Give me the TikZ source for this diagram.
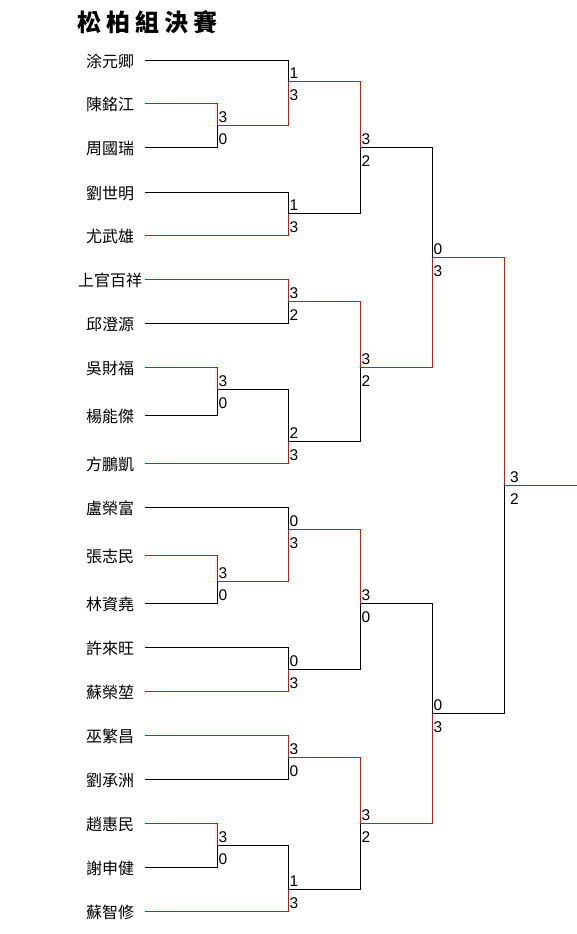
\documentclass[tikz,border=0pt]{standalone}
\usepackage{fontspec}
\setmainfont{Liberation Sans}
\newfontfamily\cjk{Noto Sans CJK TC}
\definecolor{wr}{RGB}{255,0,0}
\tikzset{
  win/.style={draw=wr, line width=1.1pt},
  lose/.style={draw=black, line width=1.1pt},
  pname/.style={font=\cjk\fontsize{16}{16}\selectfont, inner sep=0pt, anchor=center},
  scr/.style={font=\fontsize{15.5}{15.5}\selectfont, inner sep=0pt, anchor=base west},
}
% name, x, y, top source, top style, top score, bottom source, bottom style, bottom score
\newcommand\bm[9]{%
  \coordinate (#1) at (#2,#3);
  \draw[#5] (#4) -| (#1);
  \draw[#8] (#7) -| (#1);
  \node[scr] (#1t) at ([shift={(1,-3.5)}]#1) {#6};
  \node[scr] (#1b) at ([shift={(1,18.5)}]#1) {#9};
}
\begin{document}
\begin{tikzpicture}[x=1pt,y=-1pt]
\useasboundingbox (0,0) rectangle (577,934);
\begin{scope}[shift={(0.5,0.5)}]
\node[font=\cjk\bfseries\fontsize{24}{24}\selectfont, inner sep=0pt, anchor=west] (title) at (77,22) {松\hspace{5pt}柏\hspace{5pt}組\hspace{5pt}決\hspace{5pt}賽};
\foreach \i/\y/\n in {1/60/涂元卿, 2/103/陳銘江, 3/147/周國瑞, 4/192/劉世明, 5/235/尤武雄,
  6/279/上官百祥, 7/323/邱澄源, 8/367/吳財福, 9/415/楊能傑, 10/463/方鵬凱,
  11/507/盧榮富, 12/555/張志民, 13/603/林資堯, 14/647/許來旺, 15/691/蘇榮堃,
  16/735/巫繁昌, 17/779/劉承洲, 18/823/趙惠民, 19/867/謝申健, 20/911/蘇智修}{
  \node[pname] (p\i) at (109.5,\y+1) {\n};
  \coordinate (s\i) at (144,\y);
}
% top half
\bm{pA}{217}{125}{s2}{win}{3}{s3}{lose}{0}
\bm{m1}{288}{81}{s1}{lose}{1}{pA}{win}{3}
\bm{m2}{288}{213}{s4}{lose}{1}{s5}{win}{3}
\bm{r1}{360}{147}{m1}{win}{3}{m2}{lose}{2}
\bm{m3}{288}{301}{s6}{win}{3}{s7}{lose}{2}
\bm{pB}{217}{389}{s8}{win}{3}{s9}{lose}{0}
\bm{m4}{288}{441}{pB}{lose}{2}{s10}{win}{3}
\bm{r2}{360}{367}{m3}{win}{3}{m4}{lose}{2}
\bm{sA}{432}{257}{r1}{lose}{0}{r2}{win}{3}
% bottom half
\bm{pC}{217}{581}{s12}{win}{3}{s13}{lose}{0}
\bm{m5}{288}{529}{s11}{lose}{0}{pC}{win}{3}
\bm{m6}{288}{669}{s14}{lose}{0}{s15}{win}{3}
\bm{r3}{360}{603}{m5}{win}{3}{m6}{lose}{0}
\bm{m7}{288}{757}{s16}{win}{3}{s17}{lose}{0}
\bm{pD}{217}{845}{s18}{win}{3}{s19}{lose}{0}
\bm{m8}{288}{889}{pD}{lose}{1}{s20}{win}{3}
\bm{r4}{360}{823}{m7}{win}{3}{m8}{lose}{2}
\bm{sB}{432}{713}{r3}{lose}{0}{r4}{win}{3}
% final
\coordinate (F) at (504,485);
\draw[win] (sA) -| (F);
\draw[lose] (sB) -| (F);
\node[scr] (Ft) at ([shift={(5.5,-3.5)}]F) {3};
\node[scr] (Fb) at ([shift={(5.5,18.5)}]F) {2};
\coordinate (end) at (577,485);
\draw[win] (F) -- (end);
\end{scope}
\end{tikzpicture}
\end{document}
